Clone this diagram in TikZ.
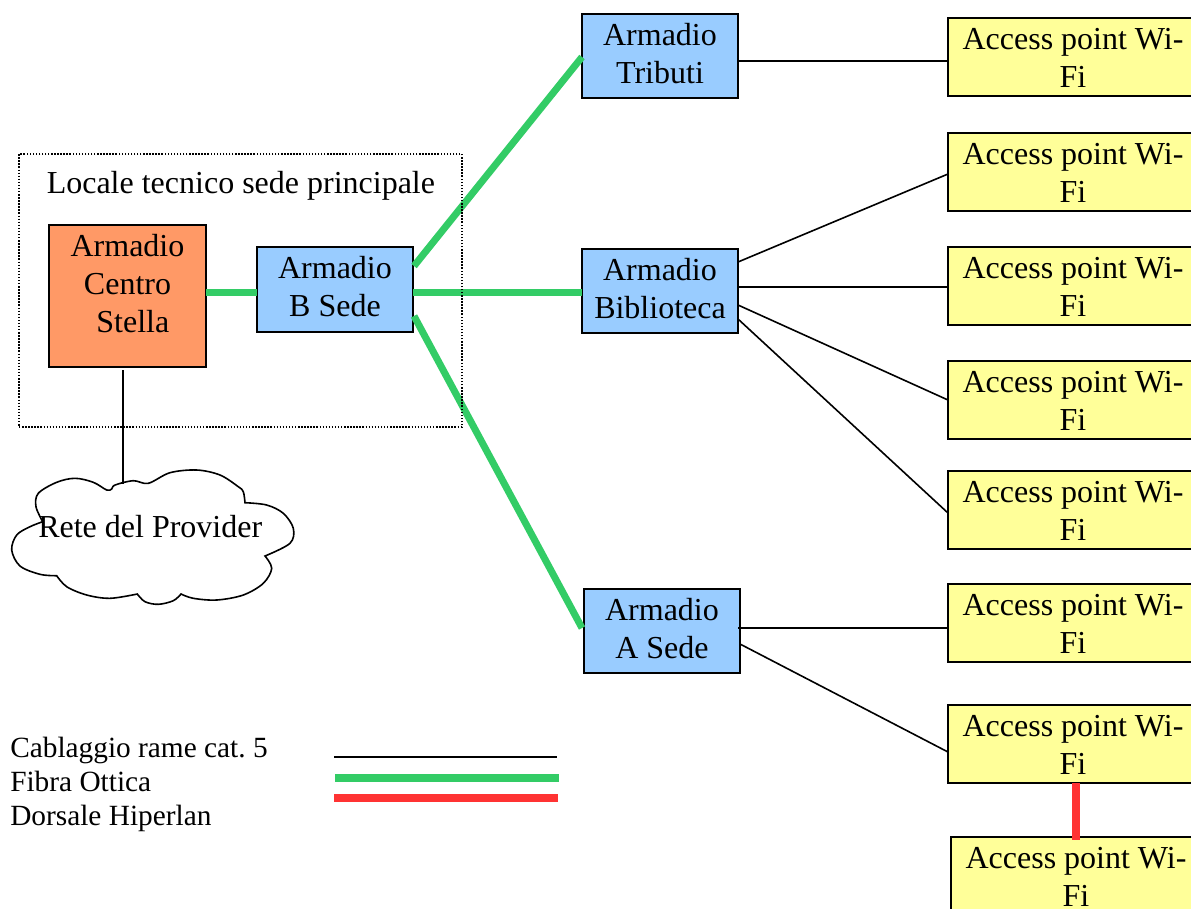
\documentclass[tikz,border=0pt]{standalone}
\usepackage{fontspec}
\setmainfont{Liberation Serif}
\definecolor{armorange}{HTML}{FF9966}
\definecolor{armblue}{HTML}{99CCFF}
\definecolor{apyellow}{HTML}{FFFF99}
\definecolor{fibgreen}{HTML}{33CC66}
\definecolor{hipred}{HTML}{FF3333}
\newcommand{\bigfont}{\fontsize{24pt}{28.5pt}\selectfont}
\newcommand{\legfont}{\fontsize{22pt}{25.5pt}\selectfont\frenchspacing}
\newcommand{\aptext}[1][6.75pt]{\rule{0pt}{23.25pt}Access point Wi-\\Fi\rule[-#1]{0pt}{#1}}
\tikzset{
  boxbase/.style={draw=black,line width=1.5pt,anchor=north west,inner sep=0pt,outer sep=0pt,align=center,font=\bigfont},
  apbox/.style={boxbase,fill=apyellow,minimum width=187.5pt},
  armbox/.style={boxbase,fill=armblue,minimum width=117pt},
  centrobox/.style={boxbase,fill=armorange,minimum width=117.75pt},
  copper/.style={draw=black,line width=1.2pt},
  fibre/.style={draw=fibgreen,line width=5.25pt},
  hiper/.style={draw=hipred,line width=6pt},
  lbl/.style={anchor=base west,inner sep=0pt,font=\bigfont},
  leg/.style={anchor=base west,inner sep=0pt,font=\legfont},
  roomline/.style={draw=black,line width=1.1pt,dash pattern=on 1.1pt off 1.2pt},
  cloudline/.style={draw=black,fill=white,line width=1.2pt}
}
\begin{document}
\begin{tikzpicture}[x=0.75pt,y=-0.75pt]
\useasboundingbox (0,0) rectangle (1191,908);
\clip (0,0) rectangle (1191,908);

% Access points
\node[apbox] (ap1) at (948,18) {\aptext};
\node[apbox] (ap2) at (948,133) {\aptext};
\node[apbox] (ap3) at (948,247) {\aptext};
\node[apbox] (ap4) at (948,361) {\aptext};
\node[apbox] (ap5) at (948,471) {\aptext};
\node[apbox] (ap6) at (948,584) {\aptext};
\node[apbox] (ap7) at (948,705) {\aptext};
\node[apbox] (ap8) at (951,837) {\aptext[3.5pt]};

% Cabinets
\node[armbox] (trib) at (582,14) {\rule{0pt}{23.25pt}Armadio\\Tributi\rule[-11.25pt]{0pt}{11.25pt}};
\node[armbox] (bibl) at (582,249) {\rule{0pt}{23.25pt}Armadio\\Biblioteca\rule[-11.25pt]{0pt}{11.25pt}};
\node[armbox] (asede) at (584,589) {\rule{0pt}{23.25pt}Armadio\\A Sede\rule[-11.25pt]{0pt}{11.25pt}};
\node[armbox] (bsede) at (257,247) {\rule{0pt}{23.25pt}Armadio\\B Sede\rule[-12pt]{0pt}{12pt}};
\node[centrobox] (centro) at (49,225) {\rule{0pt}{23.25pt}Armadio\\Centro\\\hspace*{8pt}Stella\rule[-26.25pt]{0pt}{26.25pt}};

% Fibre links
\draw[fibre] ([shift={(0,-4)}]centro.east) -- ([shift={(0,2.5)}]bsede.west);
\draw[fibre] ([shift={(1,-23.5)}]bsede.east) -- ([shift={(0,1)}]trib.west);
\draw[fibre] ([shift={(0,2.5)}]bsede.east) -- ([shift={(0,1)}]bibl.west);
\draw[fibre] ([shift={(1,26.5)}]bsede.east) -- ([shift={(-2,-3)}]asede.west);

% Copper links
\draw[copper] ([shift={(0,5)}]trib.east) -- ([shift={(0,4)}]ap1.west);
\draw[copper] ([shift={(0,-29)}]bibl.east) -- ([shift={(0,2)}]ap2.west);
\draw[copper] ([shift={(0,-4)}]bibl.east) -- ([shift={(0,1)}]ap3.west);
\draw[copper] ([shift={(0,14)}]bibl.east) -- ([shift={(0,0)}]ap4.west);
\draw[copper] ([shift={(0,28)}]bibl.east) -- ([shift={(0,3)}]ap5.west);
\draw[copper] ([shift={(-2,-3)}]asede.east) -- ([shift={(0,5)}]ap6.west);
\draw[copper] ([shift={(0,13)}]asede.east) -- ([shift={(0,8)}]ap7.west);

% Room outline
\node[roomline,anchor=north west,inner sep=0pt,outer sep=0pt,minimum width=332.25pt,minimum height=204.75pt] (room) at (19,154) {};
\node[lbl] (roomlabel) at (46.5,193) {Locale tecnico sede principale};

% Provider cloud
\draw[cloudline] plot[smooth,tension=0.55] coordinates {(42.7,521.7)(36,506.7)(38.3,493.3)(56.7,482.3)(75,478.3)(93.3,482.3)(106.7,490)(111.7,489)(115,485)(133.3,480.7)(148.3,483.3)(170,472.7)(196.7,470)(220,475)(238.3,486.7)(243.3,491.7)(245,502.7)}
 -- plot[smooth,tension=0.55] coordinates {(245,502.7)(266.7,505)(283.3,513.3)(293.3,528.3)(290,543.3)(265,556)}
 -- plot[smooth,tension=0.55] coordinates {(265,556)(271.7,568.3)(263.3,583.3)(243.3,595)(216.7,600)(193.3,598.3)(181,594)}
 -- plot[smooth,tension=0.55] coordinates {(181,594)(173.3,600.7)(158.3,604.3)(145,601.7)(137.3,594)}
 -- plot[smooth,tension=0.55] coordinates {(137.3,594)(110,598.3)(86.7,595)(66.7,586.7)(56.7,575.7)}
 -- plot[smooth,tension=0.55] coordinates {(56.7,575.7)(40,574.3)(20,566)(11.7,550)(16.7,535)(30,526.7)(42.7,521.7)} -- cycle;
\node[lbl] (cloudlabel) at (38,537) {Rete del Provider};
\coordinate (cloudtop) at (123,484);
\draw[copper] ([shift={(-4.5,3)}]centro.south) -- (cloudtop);

% Hiperlan link
\draw[hiper] ([shift={(3,0)}]ap7.south) -- ([shift={(0,3)}]ap8.north);

% Legend
\node[leg] (leg1) at (10,757.5) {Cablaggio rame cat. 5};
\node[leg] (leg2) at (10,791.5) {Fibra Ottica};
\node[leg] (leg3) at (10,825.5) {Dorsale Hiperlan};
\coordinate (l1a) at (334,757); \coordinate (l1b) at (557,757);
\coordinate (l2a) at (335,778); \coordinate (l2b) at (559,778);
\coordinate (l3a) at (334,798); \coordinate (l3b) at (558,798);
\draw[copper] (l1a) -- (l1b);
\draw[fibre,line width=6pt] (l2a) -- (l2b);
\draw[hiper] (l3a) -- (l3b);
\end{tikzpicture}
\end{document}
